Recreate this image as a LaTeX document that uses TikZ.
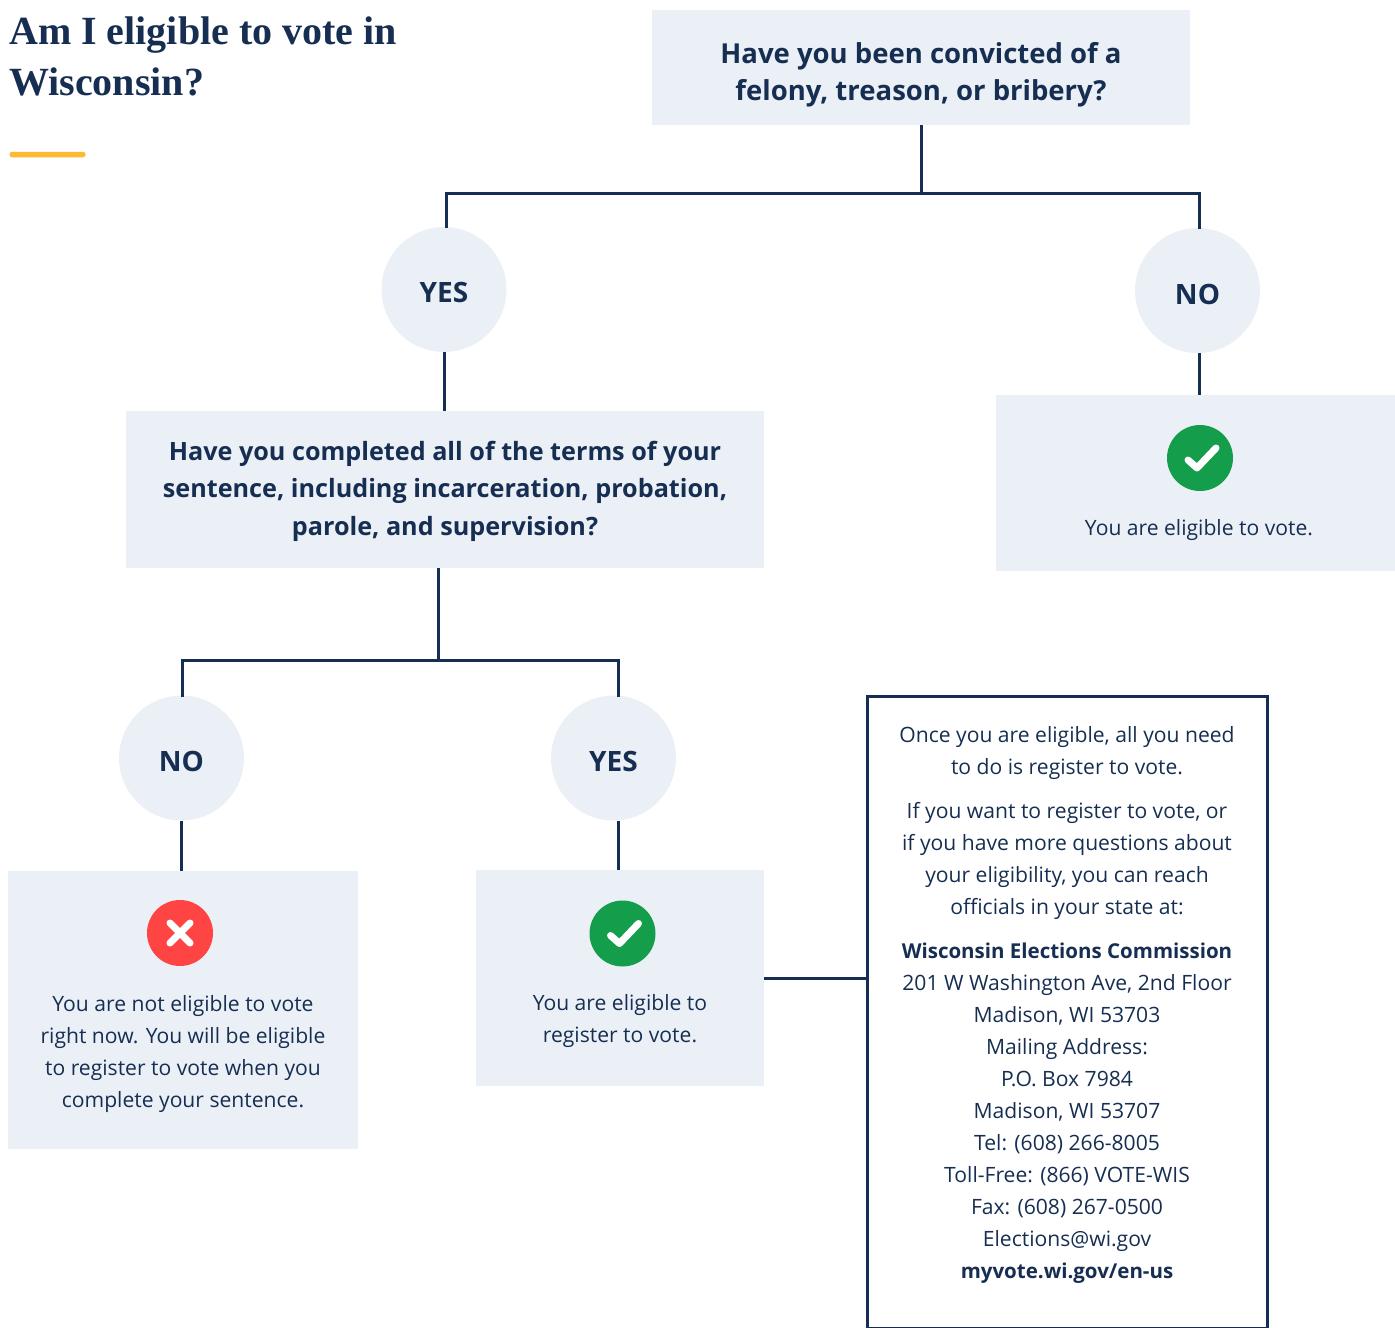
\documentclass[tikz,border=0pt]{standalone}
\usepackage{fontspec}
\setmainfont{Open Sans}
\newfontfamily\titlefont{Liberation Serif}
\definecolor{navy}{HTML}{162E51}
\definecolor{boxblue}{HTML}{EBF0F7}
\definecolor{okgreen}{HTML}{149E4B}
\definecolor{badred}{HTML}{FF4444}
\definecolor{rulegold}{HTML}{FDB92F}
\newcommand{\okmark}[2]{
	\node [okdot] (#1) at #2 {};
	\draw [tick] ([shift={(-12,2)}]#1.center) -- ([shift={(-3,10)}]#1.center) -- ([shift={(16,-10)}]#1.center);
}
\newcommand{\infobold}[1]{{\fontsize{20.5}{32}\selectfont\bfseries #1}}
\begin{document}
\begin{tikzpicture}[x=1pt, y=-1pt, text=navy]
		\tikzstyle{every node}=[inner sep=0pt, align=center]
		\tikzstyle{panel}=[fill=boxblue, draw=none]
		\tikzstyle{answer}=[circle, fill=boxblue, minimum size=125pt]
		\tikzstyle{answertext}=[font=\fontsize{28}{32}\selectfont\bfseries]
		\tikzstyle{question}=[font=\fontsize{27.5}{37.5}\selectfont\bfseries]
		\tikzstyle{longquestion}=[font=\fontsize{25.2}{37.5}\selectfont\bfseries]
		\tikzstyle{body}=[font=\fontsize{21.1}{32}\selectfont]
		\tikzstyle{wire}=[draw=navy, line width=3pt]
		\tikzstyle{okdot}=[circle, fill=okgreen, minimum size=66pt]
		\tikzstyle{baddot}=[circle, fill=badred, minimum size=66pt]
		\tikzstyle{tick}=[draw=white, line width=7pt, line cap=round, line join=round]
		\useasboundingbox (0, 0) rectangle (1395, 1328);

		\node [anchor=north west, align=left, font=\fontsize{40}{51.5}\selectfont\titlefont\bfseries] (title) at (9, 16.5) {Am I eligible to vote in\\Wisconsin?};
		\node [rounded corners=2.5pt, fill=rulegold, minimum width=76pt, minimum height=5.5pt] (titlerule) at (47.5, 154.5) {};

		\node [panel, minimum width=538pt, minimum height=115pt] (q1) at (921, 67.5) {};
		\node [question] (q1text) at (921, 75) {Have you been convicted of a\\felony, treason, or bribery?};
		\node [answer] (yes1) at (444, 289.5) {};
		\node [answertext] (yes1text) at (444, 292) {YES};
		\node [answer] (no1) at (1197.5, 290.5) {};
		\node [answertext] (no1text) at (1197.5, 294) {NO};
		\node [panel, minimum width=638pt, minimum height=157pt] (q2) at (445, 489.5) {};
		\node [longquestion] (q2text) at (445, 491) {Have you completed all of the terms of your\\sentence, including incarceration, probation,\\parole, and supervision?};
		\node [panel, minimum width=399pt, minimum height=176pt] (ok1) at (1195.5, 483) {};
		\okmark{ok1dot}{(1200, 458)}
		\node [body] (ok1text) at (1199, 530) {You are eligible to vote.};

		\node [answer] (no2) at (181.5, 758) {};
		\node [answertext] (no2text) at (181.5, 761) {NO};
		\node [answer] (yes2) at (613.5, 758) {};
		\node [answertext] (yes2text) at (613.5, 761) {YES};
		\node [panel, minimum width=350pt, minimum height=278pt] (bad) at (183, 1010) {};
		\node [baddot] (baddot) at (180, 933) {};
		\draw [tick] ([shift={(-10,-10)}]baddot.center) -- ([shift={(10,10)}]baddot.center);
		\draw [tick] ([shift={(-10,10)}]baddot.center) -- ([shift={(10,-10)}]baddot.center);
		\node [body] (badtext) at (183, 1054) {You are not eligible to vote\\right now. You will be eligible\\to register to vote when you\\complete your sentence.};
		\node [panel, minimum width=288pt, minimum height=216pt] (ok2) at (620, 978) {};
		\okmark{ok2dot}{(622.5, 933.5)}
		\node [body] (ok2text) at (620, 1021) {You are eligible to\\register to vote.};

		\node [draw=navy, line width=3pt, minimum width=400pt, minimum height=632pt] (info) at (1067.5, 1012) {};
		\node [body] (info1) at (1067, 753) {Once you are eligible, all you need\\to do is register to vote.};
		\node [body] (info2) at (1067, 861) {If you want to register to vote, or\\if you have more questions about\\your eligibility, you can reach\\officials in your state at:};
		\node [body] (info3) at (1067, 1113) {\infobold{Wisconsin Elections Commission}\\201 W Washington Ave, 2nd Floor\\Madison, WI 53703\\Mailing Address:\\P.O. Box 7984\\Madison, WI 53707\\Tel: (608) 266-8005\\Toll-Free: (866) VOTE-WIS\\Fax: (608) 267-0500\\Elections@wi.gov\\\infobold{myvote.wi.gov/en-us}};

		\coordinate (j1) at (921, 193);
		\coordinate (j1left) at (446, 228);
		\coordinate (j1right) at (1199, 229);
		\coordinate (j2) at (438, 660);
		\coordinate (j2left) at (182, 697);
		\coordinate (j2right) at (618, 697);
		\draw [wire] (q1.south) -- (j1);
		\draw [wire] (j1left) |- (j1) -| (j1right);
		\draw [wire] (yes1.south) -- (yes1.south |- q2.north);
		\draw [wire] (j1right |- no1.south) -- (j1right |- ok1.north);
		\draw [wire] (j2 |- q2.south) -- (j2);
		\draw [wire] (j2left) |- (j2) -| (j2right);
		\draw [wire] (no2.south) -- (no2.south |- bad.north);
		\draw [wire] (j2right |- yes2.south) -- (j2right |- ok2.north);
		\draw [wire] (ok2.east) -- (ok2.east -| info.west);
\end{tikzpicture}
\end{document}
